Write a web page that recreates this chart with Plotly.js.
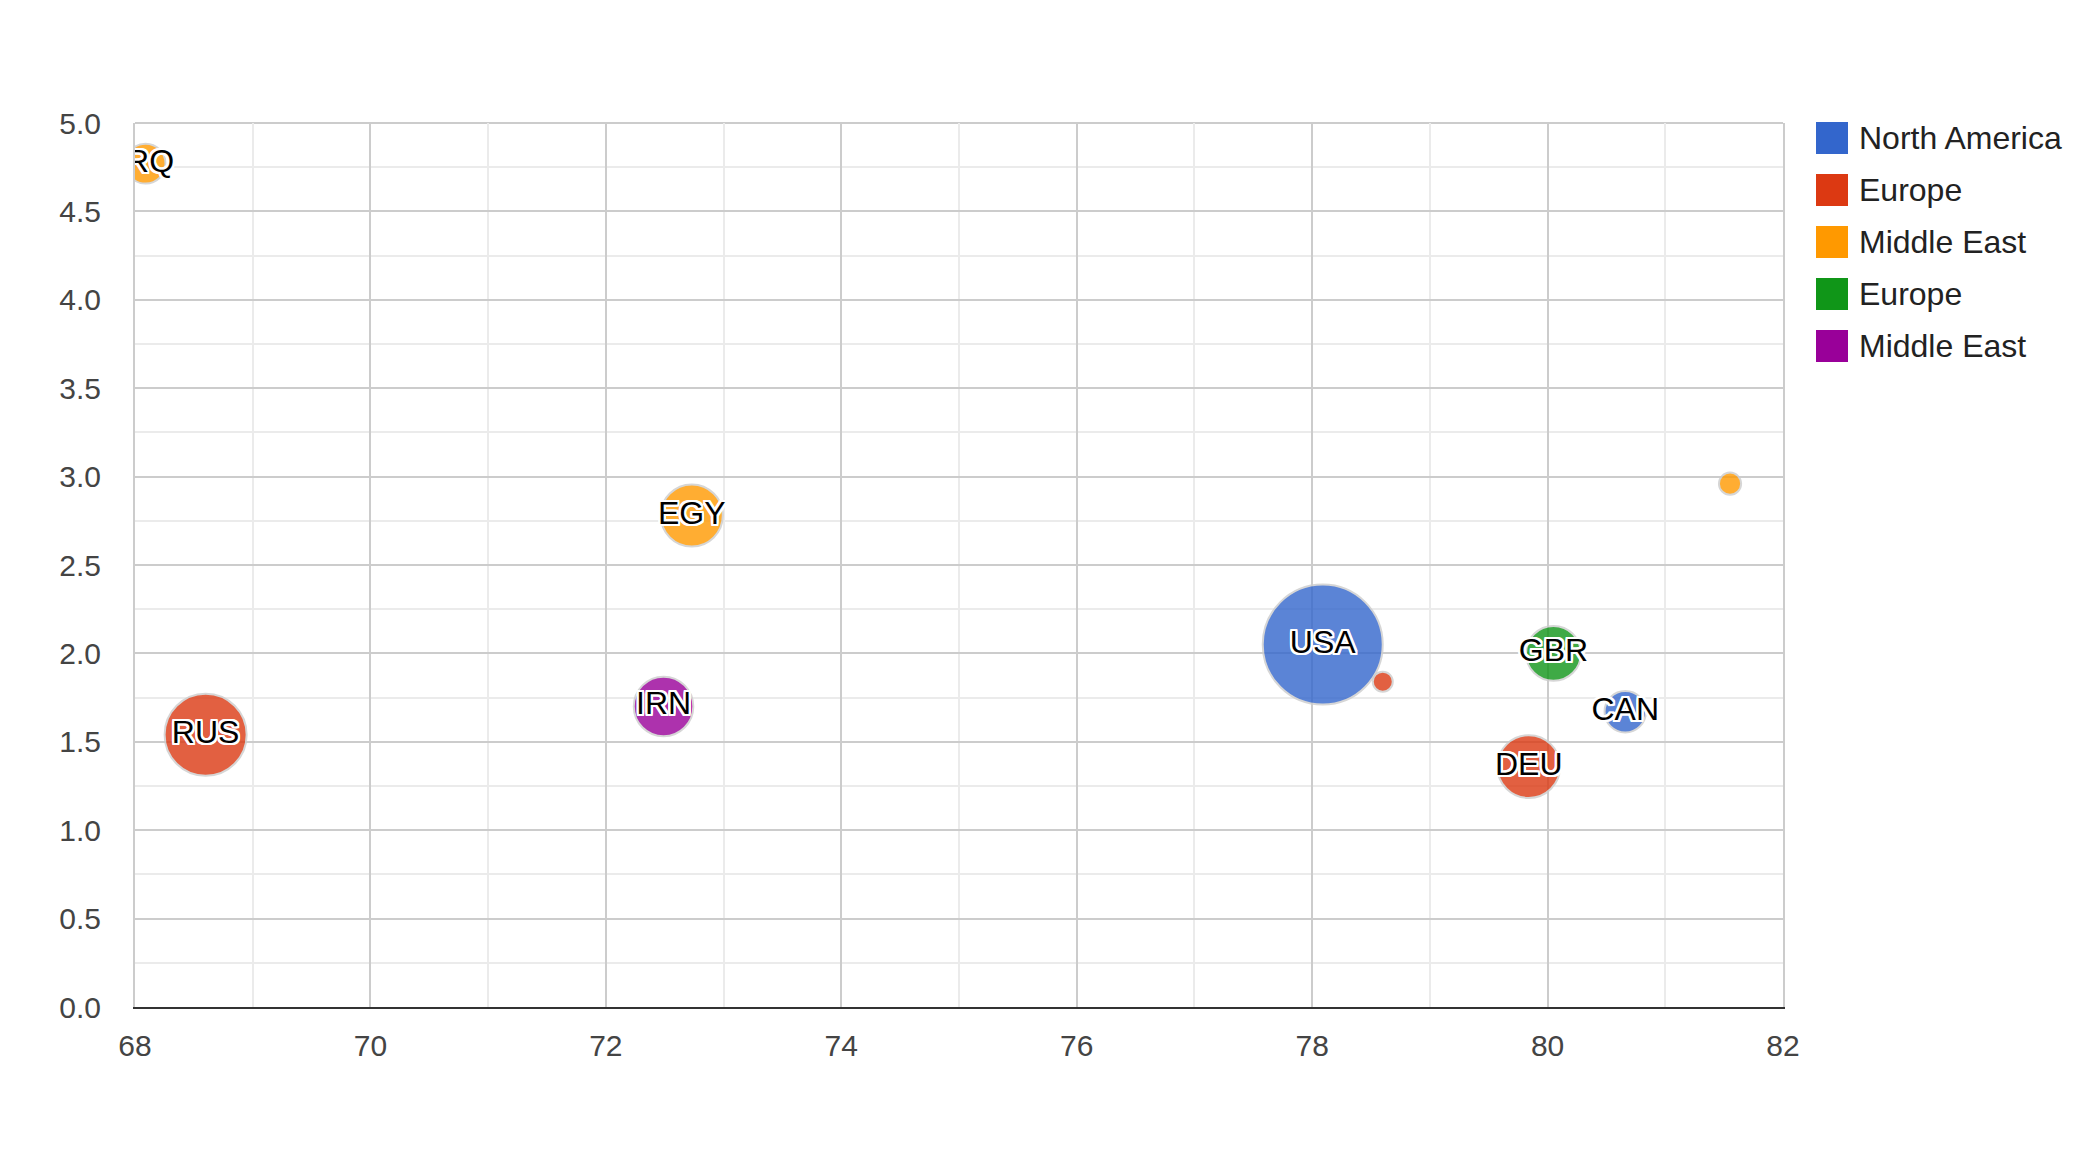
<!DOCTYPE html>
<html>
<head>
<meta charset="utf-8">
<script src="https://cdn.plot.ly/plotly-3.0.1.min.js"></script>
<style>
  html, body { margin: 0; padding: 0; background: #fff; }
  #chart { width: 2100px; height: 1162px; }
</style>
</head>
<body>
<div id="chart"></div>
<script>
// ---- Data ----
const ids = ['CAN', 'DEU', 'DNK', 'EGY', 'GBR', 'IRN', 'IRQ', 'ISR', 'RUS', 'USA'];
const lifeExpectancy = [80.66, 79.84, 78.6, 72.73, 80.05, 72.49, 68.09, 81.55, 68.6, 78.09];
const fertilityRate = [1.67, 1.36, 1.84, 2.78, 2.0, 1.7, 4.77, 2.96, 1.54, 2.05];
const population = [33739900, 81902307, 5523095, 79716203, 61801570, 73137148, 31090763, 7485600, 141850000, 307007000];
const seriesOfPoint = [0, 1, 1, 2, 3, 4, 2, 2, 1, 0];
const seriesNames = ['North America', 'Europe', 'Middle East', 'Europe', 'Middle East'];
const seriesColors = ['#3366cc', '#dc3912', '#ff9900', '#109618', '#990099'];
const hiddenLabels = ['DNK', 'ISR'];
const xTickRange = [68, 82];
const yTickRange = [0, 5];

// ---- Styling ----
const FONT = 'Arial, "Liberation Sans", sans-serif';
const W = 2100, H = 1162;
const M = { l: 135, r: 317, t: 123, b: 155 };
const plotW = W - M.l - M.r, plotH = H - M.t - M.b;
const R_MIN = 10, R_MAX = 60;

const pMin = Math.min(...population), pMax = Math.max(...population);
function bubbleDiameter(p) {
  const t = (p - pMin) / (pMax - pMin);
  return 2 * Math.sqrt(R_MIN * R_MIN + (R_MAX * R_MAX - R_MIN * R_MIN) * t);
}

const halo = [];
for (const dx of [-2, -1, 0, 1, 2]) for (const dy of [-2, -1, 0, 1, 2]) if (dx || dy) halo.push(dx + 'px ' + dy + 'px 0px #ffffff');

const traces = seriesNames.map((name, s) => {
  const idx = ids.map((_, i) => i).filter(i => seriesOfPoint[i] === s);
  return {
    type: 'scatter',
    mode: 'markers+text',
    name: name,
    x: idx.map(i => lifeExpectancy[i]),
    y: idx.map(i => fertilityRate[i]),
    text: idx.map(i => hiddenLabels.includes(ids[i]) ? '' : ids[i]),
    textposition: 'middle center',
    textfont: { family: FONT, size: 32, color: '#000000', shadow: halo.join(', ') },
    marker: {
      size: idx.map(i => bubbleDiameter(population[i])),
      sizemode: 'diameter',
      color: seriesColors[s],
      opacity: 0.8,
      line: { color: '#cccccc', width: 2 }
    },
    showlegend: false,
    hoverinfo: 'skip',
    cliponaxis: true
  };
});

// Custom legend (squares + real text)
const legendX0 = 1816, legendSq = 32, legendTextX = 1857;
const legendY0 = 138, legendStep = 52;
const px2paperX = px => (px - M.l) / plotW;
const px2paperY = py => (H - M.b - py) / plotH;
const shapes = [];
const annotations = [];
seriesNames.forEach((name, s) => {
  const cy = legendY0 + s * legendStep;
  shapes.push({
    type: 'rect', xref: 'paper', yref: 'paper',
    x0: px2paperX(legendX0), x1: px2paperX(legendX0 + legendSq),
    y0: px2paperY(cy + legendSq / 2), y1: px2paperY(cy - legendSq / 2),
    fillcolor: seriesColors[s], line: { width: 0 }
  });
  annotations.push({
    xref: 'paper', yref: 'paper', x: px2paperX(legendTextX), y: px2paperY(cy),
    xanchor: 'left', yanchor: 'middle', showarrow: false,
    text: name, font: { family: FONT, size: 32, color: '#222222' }
  });
});
// top border of plot frame
shapes.push({ type: 'line', xref: 'paper', yref: 'paper', x0: 0, x1: 1, y0: 1, y1: 1, line: { color: '#cccccc', width: 2 }, layer: 'below' });

const layout = {
  width: W, height: H,
  margin: M,
  paper_bgcolor: '#ffffff', plot_bgcolor: '#ffffff',
  font: { family: FONT, size: 30, color: '#444444' },
  showlegend: false,
  xaxis: {
    range: xTickRange, dtick: 2, tick0: 68,
    showgrid: true, gridcolor: '#cccccc', gridwidth: 2,
    minor: { dtick: 1, showgrid: true, gridcolor: '#ebebeb', gridwidth: 2 },
    zeroline: false, showline: true, linecolor: '#333333', linewidth: 2,
    ticks: '', ticklabelstandoff: 11,
    tickfont: { family: FONT, size: 30, color: '#444444' },
    fixedrange: true
  },
  yaxis: {
    range: yTickRange, dtick: 0.5, tick0: 0, tickformat: '.1f',
    showgrid: true, gridcolor: '#cccccc', gridwidth: 2,
    minor: { dtick: 0.25, showgrid: true, gridcolor: '#ebebeb', gridwidth: 2 },
    zeroline: false, showline: true, mirror: true, linecolor: '#cccccc', linewidth: 2,
    ticks: '', ticklabelstandoff: 26,
    tickfont: { family: FONT, size: 30, color: '#444444' },
    fixedrange: true
  },
  shapes: shapes,
  annotations: annotations
};

Plotly.newPlot('chart', traces, layout, { displayModeBar: false, staticPlot: true });
</script>
</body>
</html>
